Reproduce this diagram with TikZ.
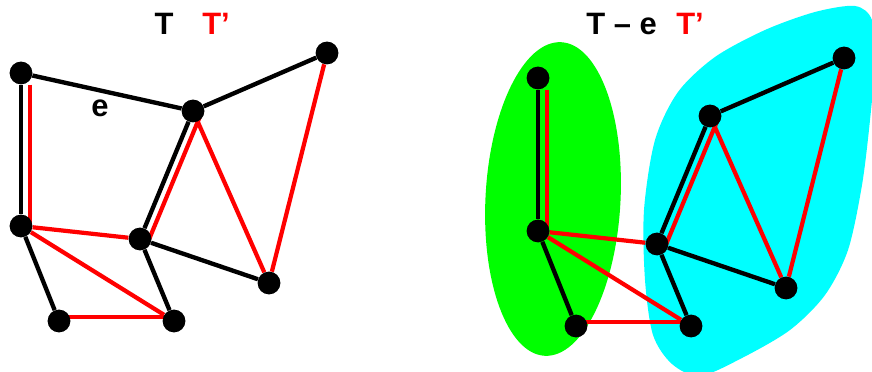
\documentclass[tikz,border=0pt]{standalone}
\usepackage{fontspec}
\setmainfont{Liberation Sans}
\usepackage{xcolor}
\usetikzlibrary{backgrounds}
\definecolor{blobgreen}{RGB}{0,255,0}
\definecolor{blobcyan}{RGB}{0,255,255}
\definecolor{tred}{RGB}{255,0,0}

\begin{document}
\begin{tikzpicture}[x=0.025cm, y=-0.025cm,
  vert/.style={circle, fill=black, minimum size=0.57cm, inner sep=0pt},
  tedge/.style={black, line width=3.1pt},
  tpedge/.style={tred, line width=3pt},
  lbl/.style={font=\bfseries\fontsize{22}{26}\selectfont, inner sep=0pt}]

\useasboundingbox (0,0) rectangle (872,372);

% Titles
\node[lbl, anchor=base] (tleft) at (164,35) {T};
\node[lbl, tred, anchor=base west] (tpleft) at (202,35) {T’};
\node[lbl, anchor=base west] (tright) at (586,35) {T – e};
\node[lbl, tred, anchor=base west] (tpright) at (676,35) {T’};

% Left graph
\node[vert] (a) at (21,73) {};
\node[vert] (b) at (193,111) {};
\node[vert] (c) at (327,53) {};
\node[vert] (d) at (21,226) {};
\node[vert] (e) at (140,239) {};
\node[vert] (f) at (269,283) {};
\node[vert] (g) at (59,321) {};
\node[vert] (h) at (174,321) {};
\node[lbl, anchor=base] (elab) at (100,116.5) {e};

% Right graph (T - e splits into two components)
\node[vert] (a2) at (538,78) {};
\node[vert] (b2) at (710,116) {};
\node[vert] (c2) at (844,58) {};
\node[vert] (d2) at (538,231) {};
\node[vert] (e2) at (657,244) {};
\node[vert] (f2) at (786,288) {};
\node[vert] (g2) at (576,326) {};
\node[vert] (h2) at (691,326) {};

\begin{scope}[on background layer]
  % Components of T - e
  \begin{scope}
    \clip (0,0) rectangle (872,372);
    \fill[blobgreen, rotate around={-3:(553,199)}] (553,199) ellipse [x radius=67.5, y radius=157];
    \fill[blobcyan] plot[smooth cycle] coordinates {(700,376) (742,358) (790,330) (825,295)
      (848,250) (862,185) (870,120) (875,60) (872,20) (855,6) (815,12) (765,30) (715,57)
      (678,92) (655,140) (644,210) (645,280) (653,335) (672,364)};
  \end{scope}

  % Tree T
  \draw[tedge] (a) -- (b);
  \foreach \u/\v in {a/d, b/c, b/e, d/g, e/h, e/f}
    \draw[tedge] (\u) -- (\v);
  % Tree T'
  \draw[tpedge] ([xshift=0.23cm]a.south) -- ([xshift=0.23cm]d.center);
  \draw[tpedge] ([xshift=0.23cm]b.center) -- ([xshift=0.23cm]e.center);
  \draw[tpedge] ([yshift=0.1cm]g.center) -- ([yshift=0.1cm]h.center);
  \foreach \u/\v in {d/e, d/h, b/f, c/f}
    \draw[tpedge] (\u) -- (\v);

  % T - e and T'
  \foreach \u/\v in {a2/d2, b2/c2, b2/e2, d2/g2, e2/h2, e2/f2}
    \draw[tedge] (\u) -- (\v);
  \draw[tpedge] ([xshift=0.23cm]a2.south) -- ([xshift=0.23cm]d2.center);
  \draw[tpedge] ([xshift=0.23cm]b2.center) -- ([xshift=0.23cm]e2.center);
  \draw[tpedge] ([yshift=0.1cm]g2.center) -- ([yshift=0.1cm]h2.center);
  \foreach \u/\v in {d2/e2, d2/h2, b2/f2, c2/f2}
    \draw[tpedge] (\u) -- (\v);
\end{scope}

\end{tikzpicture}
\end{document}
